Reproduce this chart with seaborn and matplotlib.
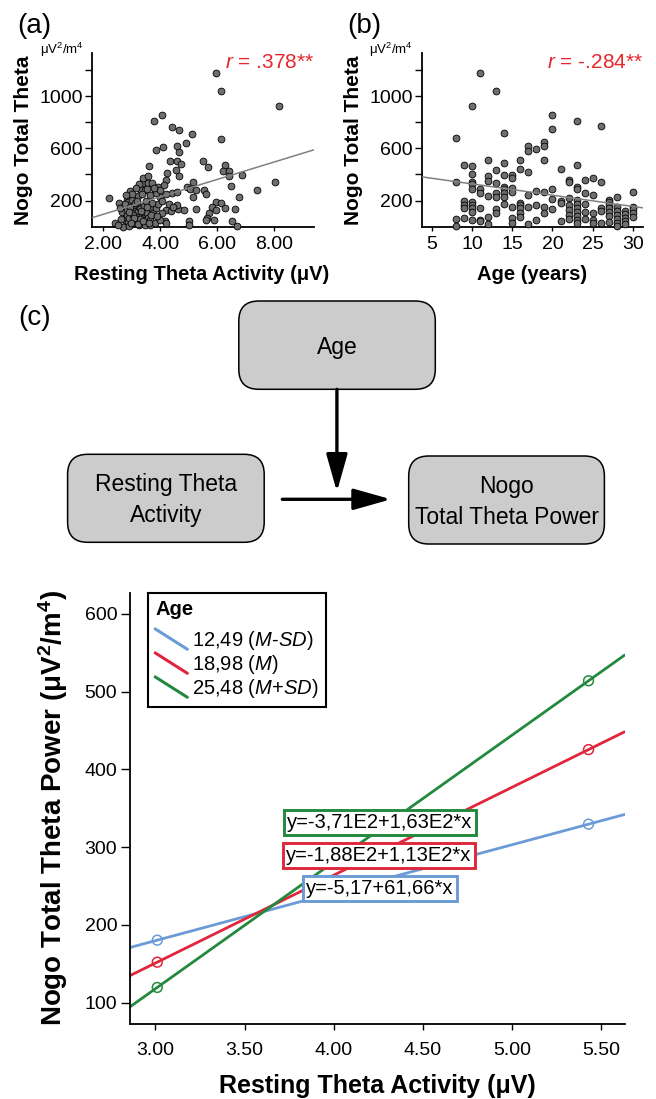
import numpy as np
import pandas as pd
import seaborn as sns
import matplotlib.pyplot as plt
from matplotlib.patches import FancyBboxPatch
from matplotlib.lines import Line2D
from matplotlib.legend_handler import HandlerLine2D

# ---- data ----
# panel (a): resting theta (uV) vs nogo total theta
rest_a = [2.20, 2.56, 2.70, 2.66, 2.77, 2.76, 2.88, 2.82, 2.88, 3.00, 3.05, 3.08, 3.17, 2.94, 3.05,
          3.17, 3.23, 3.29, 3.35, 3.41, 3.46, 3.52, 3.58, 3.64, 3.70, 3.76, 3.85, 3.93, 3.99, 3.17,
          3.23, 3.29, 3.35, 3.41, 3.46, 3.58, 3.58, 3.73, 3.81, 3.87, 3.93, 4.01, 3.62, 3.84, 4.11,
          4.58, 4.67, 4.91, 4.36, 4.58, 4.72, 4.55, 4.65, 4.25, 4.22, 4.13, 4.43, 4.22, 4.19, 4.08,
          4.40, 4.63, 4.83, 4.58, 4.58, 4.93, 5.16, 5.04, 5.25, 5.55, 5.60, 5.14, 5.28, 5.51, 5.70,
          5.98, 5.81, 5.72, 5.65, 5.60, 5.89, 5.96, 5.00, 5.00, 4.17, 4.22, 2.82, 2.91, 3.00, 3.11,
          3.27, 3.46, 3.64, 3.81, 3.99, 2.70, 2.91,
          5.97, 6.13, 8.18, 6.15, 4.07, 3.77, 4.41, 4.67, 5.12, 6.28, 6.22, 6.44, 6.44, 6.90,
          6.49, 8.04, 7.41, 6.78, 6.15, 6.28, 6.63, 6.52, 6.71,
          2.40, 2.50, 2.60, 2.75, 2.85, 2.95, 3.03, 3.13, 3.20, 3.30, 3.37, 3.43, 3.50, 3.55, 3.65,
          3.70, 3.77, 3.25, 3.15, 3.00, 2.80, 2.90, 3.07, 3.33, 3.53, 3.67, 3.90, 4.05, 4.30, 4.45,
          2.63, 2.97, 3.23, 3.40, 3.60]
theta_a = [217, 184, 153, 115, 66, 51, 38, 204, 192, 204, 153, 120, 115, 276, 43,
           41, 72, 140, 89, 115, 51, 102, 64, 51, 133, 107, 146, 171, 230, 179,
           235, 286, 337, 370, 281, 332, 388, 332, 281, 255, 306, 281, 465, 587, 613,
           618, 575, 639, 506, 506, 480, 434, 388, 414, 358, 319, 255, 248, 128, 107,
           120, 133, 128, 166, 268, 306, 345, 286, 281, 281, 250, 225, 133, 506, 455,
           192, 153, 102, 64, 51, 51, 128, 46, 13, 41, 31, 89, 64, 107, 26,
           13, 13, 13, 26, 51, 0, 5,
           1175, 1037, 925, 672, 853, 812, 766, 741, 710, 470, 429, 429, 391, 396,
           314, 342, 281, 230, 179, 140, 135, 43, 3,
           30, 10, 140, 170, 130, 150, 90, 180, 200, 60, 250, 160, 200, 290, 240,
           180, 300, 330, 300, 250, 240, 110, 70, 120, 150, 90, 80, 200, 170, 150,
           60, 30, 20, 40, 30]

# panel (b): age (years) vs nogo total theta
age_b = ([8] * 4 + [9] * 5 + [10] * 11 + [11] * 6 + [12] * 6 + [13] * 7 + [14] * 8 + [15] * 7
         + [16] * 7 + [17] * 6 + [18] * 4 + [19] * 6 + [20] * 5 + [21] * 4 + [22] * 7 + [23] * 11
         + [24] * 5 + [25] * 5 + [26] * 5 + [27] * 7 + [28] * 7 + [29] * 5 + [30] * 5)
theta_b = [677, 345, 56, 8,
           475, 194, 169, 143, 69,
           927, 462, 401, 345, 324, 286, 189, 169, 143, 112, 51,
           1180, 291, 255, 143, 51, 41,
           513, 391, 353, 235, 72, 20,
           1042, 432, 332, 255, 230, 133, 107,
           716, 491, 394, 307, 286, 255, 230, 174,
           394, 370, 296, 266, 153, 69, 26,
           511, 444, 184, 163, 140, 103, 77,
           621, 582, 417, 240, 153, 18,
           595, 276, 164, 51,
           649, 618, 509, 268, 149, 107,
           858, 746, 286, 210, 138,
           444, 199, 179, 46,
           358, 340, 222, 164, 128, 92, 57,
           812, 470, 307, 286, 205, 174, 143, 112, 82, 51, 26,
           360, 261, 172, 113, 57,
           373, 240, 107, 51, 26,
           772, 343, 146, 118, 31,
           207, 187, 166, 141, 110, 79, 38,
           225, 153, 120, 89, 59, 28, 8,
           120, 95, 69, 43, 18,
           268, 153, 133, 102, 72]

r_texts = ['$r$ = .378**', '$r$ = -.284**']

# panel (c) bottom: simple slopes
age_groups = ['12,49 ($M$-$SD$)', '18,98 ($M$)', '25,48 ($M$+$SD$)']
intercepts = [-5.17, -188.0, -371.0]
slopes = [61.66, 113.0, 163.0]
equations = ['y=-5,17+61,66*x', 'y=-1,88E2+1,13E2*x', 'y=-3,71E2+1,63E2*x']
rest_probe = [3.01, 5.43]
line_colors = ['#6b9bd6', '#e0263c', '#23893c']

# ---- style ----
sns.set_theme(style='ticks', rc={'text.color': 'black', 'axes.labelcolor': 'black',
                                 'xtick.color': 'black', 'ytick.color': 'black',
                                 'axes.edgecolor': 'black'})
plt.rcParams['font.family'] = ['Liberation Sans', 'DejaVu Sans']
plt.rcParams['mathtext.fontset'] = 'custom'
plt.rcParams['mathtext.rm'] = 'Liberation Sans'
plt.rcParams['mathtext.it'] = 'Liberation Sans:italic'
plt.rcParams['mathtext.bf'] = 'Liberation Sans:bold'

W, H = 656, 1099


def rect(left, top, right, bottom):
    return [left / W, 1 - bottom / H, (right - left) / W, (bottom - top) / H]


fig = plt.figure(figsize=(W / 100, H / 100), dpi=100)
ax_a = fig.add_axes(rect(92.3, 53, 314, 226.7))
ax_b = fig.add_axes(rect(422.3, 53, 643.3, 226.7))
ax_c = fig.add_axes(rect(129.8, 593, 624.7, 1024))


def scatter_panel(ax, x, y, xlim, xticks, xticklabels, xlabel, rtext, lab_left):
    df = pd.DataFrame({'x': x, 'y': y})
    sns.scatterplot(data=df, x='x', y='y', ax=ax, color='#6e6e6e', edgecolor='black',
                    linewidth=0.6, s=24, clip_on=False, zorder=3)
    # least squares line across the whole axis
    b, a = np.polyfit(x, y, 1)
    xs = np.array(xlim)
    sns.lineplot(x=xs, y=a + b * xs, ax=ax, color='#808080', lw=1.1, zorder=4)
    ax.set_xlim(xlim)
    ax.set_ylim(0, 1330)
    ax.set_yticks([200, 400, 600, 800, 1000, 1200])
    ax.set_yticklabels(['200', '', '600', '', '1000', ''])
    ax.set_xticks(xticks)
    ax.set_xticklabels(xticklabels)
    sns.despine(ax=ax)
    for s in ['left', 'bottom']:
        ax.spines[s].set_linewidth(1.3)
    ax.tick_params(axis='y', length=5, width=1, pad=2, labelsize=14)
    ax.tick_params(axis='x', length=3, width=1, pad=4, labelsize=14)
    ax.set_xlabel(xlabel, fontsize=14.5, fontweight='bold')
    ax.xaxis.set_label_coords(0.495, -0.22)
    ax.xaxis.label.set_va('top')
    ax.set_ylabel('Nogo Total Theta', fontsize=15, fontweight='bold')
    ax.yaxis.set_label_coords(-0.268, 0.5)
    ax.text(1.0, 1.0, rtext, transform=ax.transAxes, ha='right', va='top',
            color='#e8262d', fontsize=15)
    fig.text(lab_left / W, 1 - 50 / H, 'μV$^2$/m$^4$', fontsize=9.5, ha='left', va='center')


scatter_panel(ax_a, rest_a, theta_a, (1.61, 9.42), [2, 4, 6, 8],
              ['2.00', '4.00', '6.00', '8.00'], 'Resting Theta Activity (μV)', r_texts[0], 40)
scatter_panel(ax_b, age_b, theta_b, (3.8, 31.3), [5, 10, 15, 20, 25, 30],
              ['5', '10', '15', '20', '25', '30'], 'Age (years)', r_texts[1], 369)

# ---- bottom: moderation lines ----
xlim_c = (2.856, 5.633)
ax_c.set_xlim(xlim_c)
ax_c.set_ylim(72.6, 627)
rows = []
for g, a, b in zip(age_groups, intercepts, slopes):
    for xv in xlim_c:
        rows.append({'group': g, 'rest': xv, 'theta': a + b * xv})
lines_df = pd.DataFrame(rows)
pal = dict(zip(age_groups, line_colors))
sns.lineplot(data=lines_df, x='rest', y='theta', hue='group', palette=pal, lw=2.0,
             legend=False, ax=ax_c, zorder=2)

probe_rows = []
for g, a, b in zip(age_groups, intercepts, slopes):
    for xv in rest_probe:
        probe_rows.append({'group': g, 'rest': xv, 'theta': a + b * xv})
probe_df = pd.DataFrame(probe_rows)
sns.scatterplot(data=probe_df, x='rest', y='theta', hue='group', palette=pal, s=50,
                legend=False, ax=ax_c, zorder=3)
pts = ax_c.collections[-1]
pts.set_edgecolors(pts.get_facecolors())
pts.set_facecolors('none')
pts.set_linewidth(1.1)

# equation boxes (green on top, then red, then blue)
eq_pos = [(4.26, 247), (4.255, 289), (4.26, 332)]
for eq, col, (ex, ey) in zip(equations, line_colors, eq_pos):
    ax_c.text(ex, ey, eq, ha='center', va='center', fontsize=14.5, zorder=5, color='black',
              bbox=dict(boxstyle='square,pad=0.15', fc='white', ec=col, lw=2.1))

ax_c.set_xticks([3.0, 3.5, 4.0, 4.5, 5.0, 5.5])
ax_c.set_xticklabels(['3.00', '3.50', '4.00', '4.50', '5.00', '5.50'])
ax_c.set_yticks([100, 200, 300, 400, 500, 600])
sns.despine(ax=ax_c)
for s in ['left', 'bottom']:
    ax_c.spines[s].set_linewidth(1.3)
ax_c.tick_params(axis='y', length=6.5, width=1, pad=2.5, labelsize=14)
ax_c.tick_params(axis='x', length=4, width=1, pad=9, labelsize=14)
ax_c.set_xlabel('Resting Theta Activity (μV)', fontsize=18, fontweight='bold')
ax_c.xaxis.set_label_coords(0.5, -0.116)
ax_c.xaxis.label.set_va('top')
ax_c.set_ylabel('Nogo Total Theta Power (μV$^\\mathbf{2}$/m$^\\mathbf{4}$)', fontsize=20,
                fontweight='bold')
ax_c.yaxis.set_label_coords(-0.121, 0.5)


class DiagonalHandler(HandlerLine2D):
    def create_artists(self, legend, orig_handle, xdescent, ydescent, width, height,
                       fontsize, trans):
        line = Line2D([-xdescent, -xdescent + width],
                      [-ydescent + height * 1.2, -ydescent - height * 0.25])
        self.update_prop(line, orig_handle, legend)
        line.set_transform(trans)
        return [line]


handles = [Line2D([], [], color=c, lw=2.2) for c in line_colors]
leg = ax_c.legend(handles, age_groups, title='Age', loc='upper left',
                  bbox_to_anchor=(0.037, 1.0), borderaxespad=0, fancybox=False,
                  edgecolor='black', fontsize=14.5, alignment='left',
                  title_fontproperties={'weight': 'bold', 'size': 14.5},
                  handlelength=1.6, handletextpad=0.25, labelspacing=0.05, borderpad=0.35,
                  framealpha=1, handler_map={Line2D: DiagonalHandler()})
leg.get_frame().set_linewidth(1.5)
leg._legend_box.sep = 7

# ---- diagram (c) drawn in pixel coordinates ----
ax_d = fig.add_axes([0, 0, 1, 1], zorder=-1)
ax_d.set_xlim(0, W)
ax_d.set_ylim(H, 0)
ax_d.axis('off')
boxes = [(238.8, 301, 435.3, 389.3, 'Age'),
         (67.6, 454.3, 264.2, 542.3, 'Resting Theta\nActivity'),
         (408.7, 456, 604.4, 544, 'Nogo\nTotal Theta Power')]
for x0, y0, x1, y1, label in boxes:
    ax_d.add_patch(FancyBboxPatch((x0, y0), x1 - x0, y1 - y0,
                                  boxstyle='round,pad=0,rounding_size=20',
                                  fc='#cccccc', ec='black', lw=1.1))
    ax_d.text((x0 + x1) / 2, (y0 + y1) / 2 + 2, label, ha='center', va='center',
              fontsize=16.5, linespacing=1.45, multialignment='center')

arrow = dict(arrowstyle='-|>,head_length=2.3,head_width=0.65', lw=2.4, color='black',
             shrinkA=0, shrinkB=0, mutation_scale=10)
ax_d.annotate('', xy=(336.9, 491.7), xytext=(336.9, 389.3), arrowprops=arrow)
ax_d.annotate('', xy=(391, 499.3), xytext=(282.3, 499.3), arrowprops=arrow)

# panel letters
for lab, (px, py) in zip(['(a)', '(b)', '(c)'], [(34, 26), (364, 26), (35, 318)]):
    fig.text(px / W, 1 - py / H, lab, ha='center', va='center', fontsize=20)

fig.savefig('out.png', dpi=100)
